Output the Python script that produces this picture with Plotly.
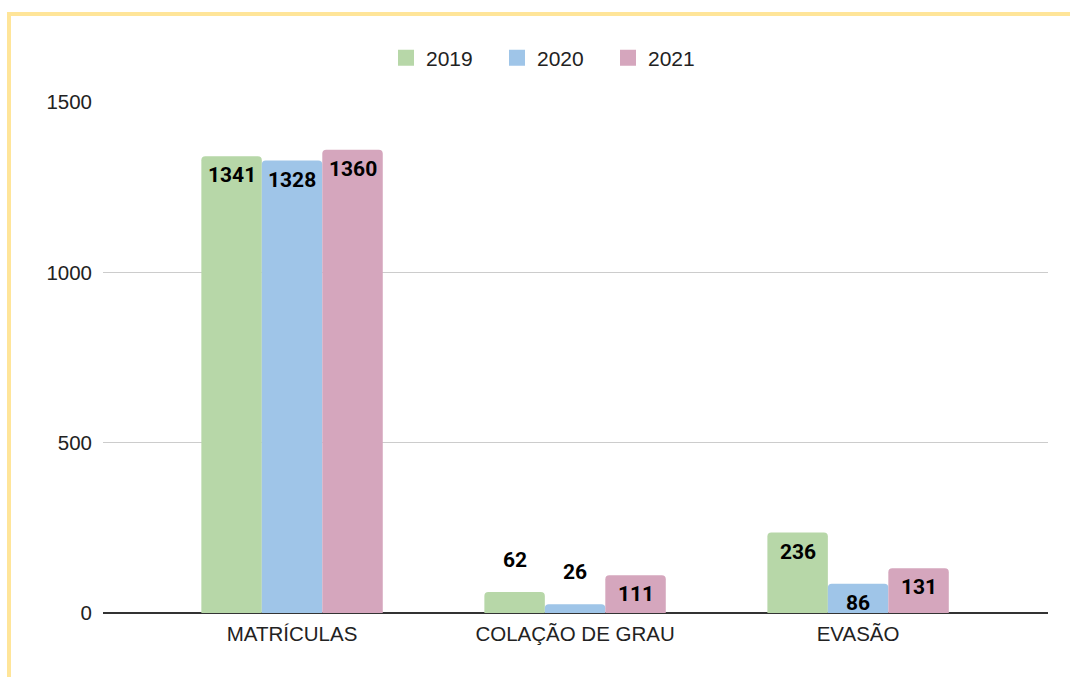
import plotly.graph_objects as go

categories = ["MATRÍCULAS", "COLAÇÃO DE GRAU", "EVASÃO"]
years = ["2019", "2020", "2021"]
values_2019 = [1341, 62, 236]
values_2020 = [1328, 26, 86]
values_2021 = [1360, 111, 131]
series = [values_2019, values_2020, values_2021]
colors = ["#b7d7a8", "#9fc5e8", "#d5a6bd"]
y_ticks = [0, 500, 1000, 1500]

W, H = 1070, 677
ML, MR, MT, MB = 103, 22, 102, 64
pw, ph = W - ML - MR, H - MT - MB

BARGAP = 0.359
bar_w = (1 - BARGAP) / 3
xs = list(range(len(categories)))

fig = go.Figure()
for i, (yr, vals, col) in enumerate(zip(years, series, colors)):
    fig.add_trace(go.Bar(
        x=xs, y=vals, name=yr, marker=dict(color=col, line=dict(width=0)),
        showlegend=False, hoverinfo="skip",
    ))
    fig.add_trace(go.Scatter(
        x=[None], y=[None], mode="markers", name=yr,
        marker=dict(symbol="square", size=16, color=col),
    ))

# data labels
annotations = []
for i, vals in enumerate(series):
    off = (i - 1) * bar_w
    for j, v in enumerate(vals):
        inside = v > 75
        annotations.append(dict(
            x=xs[j] + off, y=v, xref="x", yref="y", text=str(v), showarrow=False,
            yanchor="middle", yshift=-19 if inside else 32,
            font=dict(family="Roboto", size=21, color="#000000", weight="bold"),
        ))

# yellow frame lines (top and left)
def px_x(p):
    return (p - ML) / pw

def px_y(p):
    return (H - MB - p) / ph

shapes = [
    dict(type="line", xref="paper", yref="paper", x0=px_x(7), x1=px_x(1072),
         y0=px_y(14), y1=px_y(14), line=dict(color="#ffe599", width=4)),
    dict(type="line", xref="paper", yref="paper", x0=px_x(9), x1=px_x(9),
         y0=px_y(12), y1=px_y(680), line=dict(color="#ffe599", width=4)),
]

fig.update_layout(
    width=W, height=H,
    margin=dict(l=ML, r=MR, t=MT, b=MB, pad=0),
    paper_bgcolor="white", plot_bgcolor="white",
    barmode="group", bargap=BARGAP, bargroupgap=0.0, barcornerradius=4,
    font=dict(family="Liberation Sans, Arial", size=20.5, color="#222222"),
    legend=dict(orientation="h", x=0.5 - 23 / pw, xanchor="center", y=px_y(58), yanchor="middle",
                font=dict(size=21, color="#222222"), itemwidth=30,
                entrywidth=66, entrywidthmode="pixels",
                bgcolor="rgba(0,0,0,0)", traceorder="normal"),
    annotations=annotations,
    shapes=shapes,
    xaxis=dict(
        tickmode="array", tickvals=xs, ticktext=categories,
        range=[-0.668, 2.671], showgrid=False, zeroline=False,
        showline=False, ticks="", ticklabelstandoff=6,
        tickfont=dict(size=20.5, color="#222222"),
    ),
    yaxis=dict(
        range=[0, 1500], tickvals=y_ticks, showgrid=True, gridcolor="#cccccc",
        gridwidth=1, zeroline=True, zerolinecolor="#333333", zerolinewidth=1.5,
        showline=False, ticks="", ticklabelstandoff=10,
        tickfont=dict(size=20.5, color="#222222"),
    ),
)

fig.write_html("out.html", config={"displayModeBar": False},
               post_script="document.body.style.margin='0';")
